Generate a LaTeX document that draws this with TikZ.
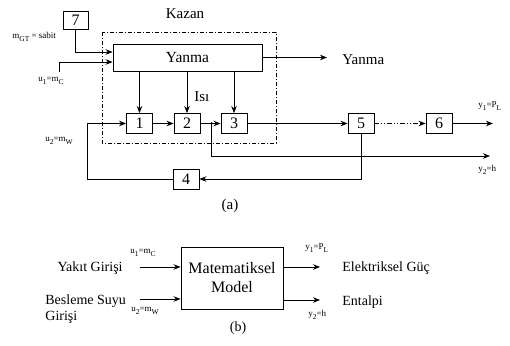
\documentclass[tikz,border=0pt]{standalone}
\usepackage{fontspec}
\setmainfont{Liberation Serif}
\usetikzlibrary{arrows.meta,calc}
\newcommand{\sbx}[1]{\raisebox{-0.8ex}{\fontsize{7.5}{8}\selectfont #1}}
\begin{document}
\begin{tikzpicture}[x=1pt,y=-1pt,
  line width=0.8pt,
  >={Stealth[length=7pt,width=5.5pt]},
  box/.style={draw, line width=0.9pt, inner sep=0pt, font=\fontsize{15.5}{18}\selectfont},
  blk/.style={box, minimum width=26pt, minimum height=20pt, font=\fontsize{16}{18}\selectfont},
  lbl/.style={font=\fontsize{15}{17}\selectfont, inner sep=0pt},
  lblb/.style={font=\fontsize{14}{16.5}\selectfont, inner sep=0pt},
  sm/.style={font=\fontsize{9}{10}\selectfont, inner sep=0pt},
  dashdot/.style={line width=0.7pt, dash pattern=on 4pt off 2pt on 1pt off 2pt},
  dashdotdot/.style={dash pattern=on 5pt off 2pt on 1pt off 2pt on 1pt off 2pt},
]
\useasboundingbox (0,0) rectangle (510,345);
% ---------- (a) ----------
\node[lbl] (kazan) at (185,14) {Kazan};
\draw[dashdot] (102,32) rectangle (276,143);
\node[box, minimum width=25pt, minimum height=18pt, font=\fontsize{16}{18}\selectfont] (b7) at (75.5,20) {7};
\node[box, minimum width=149pt, minimum height=27pt] (yan) at (187.5,57.5) {Yanma};
\node[blk] (b1) at (139.5,123.5) {1};
\node[blk] (b2) at (187,123.5) {2};
\node[blk] (b3) at (234,123.5) {3};
\node[blk] (b5) at (361,123.5) {5};
\node[blk] (b6) at (439,123.5) {6};
\node[blk] (b4) at (186,179) {4};

\coordinate (u1s) at (59,72);
\coordinate (yo) at (327,57.5);
\coordinate (fb) at (87,179);
\coordinate (y1e) at (493,123.5);
\coordinate (y2e) at (490,156);

\draw[->] (b7.south) |- ([yshift=5.5pt]yan.west);
\draw[->] (u1s) |- ([yshift=-4.5pt]yan.west);
\draw[->] (yan.east) -- (yo);
\draw[->] (yan.south -| b1) -- (b1.north);
\draw[->] (yan.south -| b2) -- (b2.north);
\draw[->] (yan.south -| b3) -- (b3.north);
\draw[->] (b1) -- (b2);
\draw[->] (b2) -- (b3);
\draw[->] (b3) -- (b5);
\draw[->,dashdotdot] (b5) -- (b6);
\draw[->] (b6.east) -- (y1e);
\coordinate (j) at ($(b2.east)!0.55!(b3.west)$);
\fill (j) circle (1.4pt);
\draw[->] (j) |- (y2e);
\draw[->] (b5.south) |- (b4.east);
\draw[->] (b4.west) -- (fb) |- (b1.west);

\node[lbl, anchor=west] (yanlbl) at (342,60) {Yanma};
\node[lbl, anchor=west] (isi) at (194,97) {Isı};
\node[sm, anchor=west] (mgt) at (12,37) {m\sbx{GT} = sabit};
\node[sm, anchor=west] (u1lbl) at (38,81) {u\sbx{1}=m\sbx{C}};
\node[sm, anchor=west] (u2lbl) at (45,141) {u\sbx{2}=m\sbx{W}};
\node[sm, anchor=west] (y1lbl) at (478,106) {y\sbx{1}=P\sbx{L}};
\node[sm, anchor=west] (y2lbl) at (478,170) {y\sbx{2}=h};
\node[lbl] (a) at (230,206) {(a)};
% ---------- (b) ----------
\node[box, minimum width=102pt, minimum height=62pt, align=center, font=\fontsize{16}{19}\selectfont] (mod) at (232,278) {Matematiksel\\Model};
\coordinate (ya) at (140,267);
\coordinate (bs) at (140,299);
\coordinate (eo1) at (320,267);
\coordinate (eo2) at (320,300);
\draw[->] (ya) -- (ya -| mod.west);
\draw[->] (bs) -- (bs -| mod.west);
\draw[->] (eo1 -| mod.east) -- (eo1);
\draw[->] (eo2 -| mod.east) -- (eo2);
\node[lblb, anchor=east] (yakit) at (123,268) {Yakıt Girişi};
\node[lblb, anchor=west, align=left] (besl) at (45,309) {Besleme Suyu\\Girişi};
\node[lblb, anchor=west] (elek) at (342,268) {Elektriksel Güç};
\node[lblb, anchor=west] (ent) at (342,302) {Entalpi};
\node[sm, anchor=west] (bu1) at (130,253) {u\sbx{1}=m\sbx{C}};
\node[sm, anchor=west] (bu2) at (131,311) {u\sbx{2}=m\sbx{W}};
\node[sm, anchor=west] (by1) at (305,248) {y\sbx{1}=P\sbx{L}};
\node[sm, anchor=west] (by2) at (308,315) {y\sbx{2}=h};
\node[lblb] (b) at (238,328) {(b)};
\end{tikzpicture}
\end{document}
